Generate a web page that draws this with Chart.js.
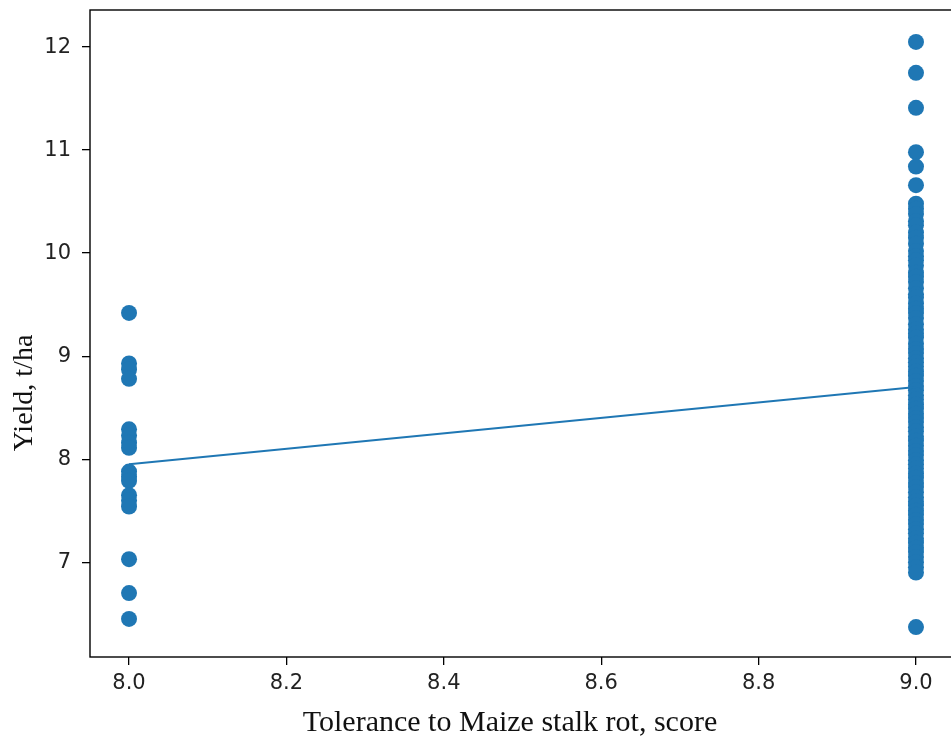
<!DOCTYPE html>
<html>
<head>
<meta charset="utf-8">
<script src="https://cdn.jsdelivr.net/npm/chart.js@4.4.1/dist/chart.umd.min.js"></script>
<style>
  html, body { margin: 0; padding: 0; background: #fff; }
  #wrap { width: 951px; height: 736px; }
</style>
</head>
<body>
<div id="wrap"><canvas id="chart" width="951" height="736"></canvas></div>
<script>
// ===== Data =====
const scoreLow = 8.0;
const scoreHigh = 9.0;

// yields of the score-8 plants
const yieldScore8 = [9.42, 8.93, 8.87, 8.78, 8.29, 8.23, 8.16, 8.11, 7.88, 7.83, 7.79, 7.65, 7.6, 7.54, 7.03, 6.7, 6.45];

// yields of the score-9 plants
const yieldScore9 = [12.05, 11.75, 11.41, 10.98, 10.84, 10.66, 10.48, 10.43, 10.38, 10.31, 10.27, 10.2, 10.15,
  10.09, 10.02, 9.97, 9.93, 9.88, 9.81, 9.77, 9.72, 9.66, 9.6, 9.57, 9.51, 9.46, 9.42, 9.37, 9.31, 9.26,
  9.22, 9.18, 9.12, 9.07, 9.03, 8.98, 8.94, 8.9, 8.85, 8.81, 8.76, 8.71, 8.67, 8.62, 8.58, 8.53, 8.49,
  8.44, 8.4, 8.36, 8.31, 8.27, 8.22, 8.18, 8.13, 8.08, 8.04, 7.99, 7.95, 7.91, 7.86, 7.82, 7.77, 7.73,
  7.68, 7.63, 7.59, 7.55, 7.5, 7.46, 7.41, 7.37, 7.32, 7.28, 7.23, 7.19, 7.14, 7.1, 7.05, 7.0, 6.95,
  6.9, 6.37];

// fitted line end points
const fitX = [8.0, 9.0];
const fitY = [7.95, 8.70];

const xTicks = [8.0, 8.2, 8.4, 8.6, 8.8, 9.0];
const yTicks = [7, 8, 9, 10, 11, 12];

const xTitle = 'Tolerance to Maize stalk rot, score';
const yTitle = 'Yield, t/ha';

const blue = '#1f77b4';

const points = [
  ...yieldScore8.map(y => ({ x: scoreLow, y })),
  ...yieldScore9.map(y => ({ x: scoreHigh, y }))
];
const fitLine = fitX.map((x, i) => ({ x, y: fitY[i] }));

// frame (right side runs off the canvas) + axis titles
const framePlugin = {
  id: 'frame',
  afterDraw(chart) {
    const { ctx, chartArea: a } = chart;
    ctx.save();
    ctx.strokeStyle = '#000';
    ctx.lineWidth = 1.4;
    ctx.strokeRect(a.left, a.top, a.right - a.left + 4, a.bottom - a.top);

    ctx.fillStyle = '#111';
    ctx.textAlign = 'center';
    ctx.textBaseline = 'alphabetic';
    ctx.font = '30px "Liberation Serif"';
    ctx.fillText(xTitle, 510, 731);

    ctx.translate(32, 393);
    ctx.rotate(-Math.PI / 2);
    ctx.font = '28px "Liberation Serif"';
    ctx.fillText(yTitle, 0, 0);
    ctx.restore();
  }
};

const tickFont = { family: '"DejaVu Sans"', size: 21 };

new Chart(document.getElementById('chart'), {
  type: 'scatter',
  data: {
    datasets: [
      {
        type: 'line',
        data: fitLine,
        borderColor: blue,
        borderWidth: 2,
        pointRadius: 0,
        fill: false
      },
      {
        data: points,
        backgroundColor: blue,
        borderColor: blue,
        borderWidth: 0,
        pointRadius: 8,
        pointHoverRadius: 8
      }
    ]
  },
  options: {
    responsive: false,
    animation: false,
    layout: { autoPadding: false, padding: { top: 10, right: 0, left: 0, bottom: 0 } },
    plugins: { legend: { display: false }, tooltip: { enabled: false } },
    scales: {
      x: {
        type: 'linear',
        min: 7.9504,
        max: 9.0445,
        afterFit: s => { s.height = 79; s.paddingLeft = 0; s.paddingRight = 0; },
        afterBuildTicks: s => { s.ticks = xTicks.map(v => ({ value: v })); },
        border: { display: false },
        grid: { drawOnChartArea: false, drawTicks: true, tickLength: 8, color: '#000', lineWidth: 1.3 },
        ticks: { color: '#222', font: tickFont, padding: 6, callback: v => v.toFixed(1) }
      },
      y: {
        type: 'linear',
        min: 6.08,
        max: 12.36,
        afterFit: s => { s.width = 90; s.paddingTop = 0; s.paddingBottom = 0; },
        afterBuildTicks: s => { s.ticks = yTicks.map(v => ({ value: v })); },
        border: { display: false },
        grid: { drawOnChartArea: false, drawTicks: true, tickLength: 8, color: '#000', lineWidth: 1.3 },
        ticks: { color: '#222', font: tickFont, padding: 11 }
      }
    }
  },
  plugins: [framePlugin]
});
</script>
</body>
</html>
